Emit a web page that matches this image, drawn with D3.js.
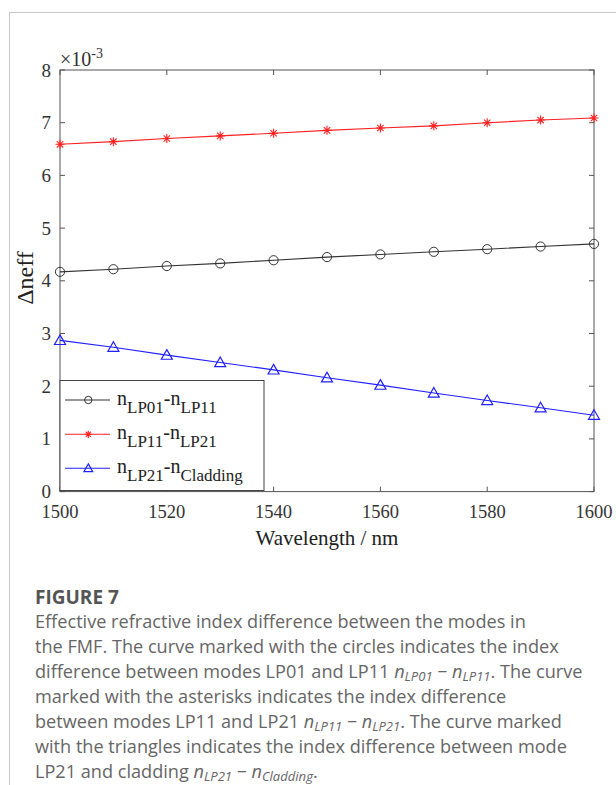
<!DOCTYPE html>
<html><head><meta charset="utf-8">
<script src="https://cdn.jsdelivr.net/npm/d3@7/dist/d3.min.js"></script>
<style>
body{margin:0;background:#fff;}
svg{display:block;}
</style></head>
<body>
<svg id="c" width="616" height="785"></svg>
<script>
const wavelengths = [1500,1510,1520,1530,1540,1550,1560,1570,1580,1590,1600];
const lp01_lp11 = [4.17,4.22,4.28,4.33,4.39,4.45,4.50,4.55,4.60,4.65,4.70];
const lp11_lp21 = [6.59,6.64,6.70,6.75,6.80,6.855,6.90,6.94,7.00,7.05,7.09];
const lp21_clad = [2.87,2.74,2.59,2.45,2.31,2.16,2.02,1.87,1.73,1.59,1.45];
const xTicks = [1500,1520,1540,1560,1580,1600];
const yTicks = [0,1,2,3,4,5,6,7,8];
const seriesNames = [["LP01","LP11"],["LP11","LP21"],["LP21","Cladding"]];
const captionLines = [
 [["Effective refractive index difference between the modes in"]],
 [["the FMF. The curve marked with the circles indicates the index"]],
 [["difference between modes LP01 and LP11 "],["n","i"],["LP01","s"],[" \u2212 ","i"],["n","i"],["LP11","s"],[". The curve"]],
 [["marked with the asterisks indicates the index difference"]],
 [["between modes LP11 and LP21 "],["n","i"],["LP11","s"],[" \u2212 ","i"],["n","i"],["LP21","s"],[". The curve marked"]],
 [["with the triangles indicates the index difference between mode"]],
 [["LP21 and cladding "],["n","i"],["LP21","s"],[" \u2212 ","i"],["n","i"],["Cladding","s"],["."]]
];

const svg = d3.select("#c");
svg.append("line").attr("x1",9).attr("x2",616).attr("y1",12.5).attr("y2",12.5).attr("stroke","#c8c8c8").attr("stroke-width",1);
svg.append("line").attr("x1",9.5).attr("x2",9.5).attr("y1",12).attr("y2",785).attr("stroke","#c8c8c8").attr("stroke-width",1);

const L=60,R=594,T=70,B=491.6;
const x = d3.scaleLinear().domain([1500,1600]).range([L,R]);
const y = d3.scaleLinear().domain([0,8]).range([B,T]);
const serif = "'Liberation Serif','Times New Roman',serif";
const axisCol = "#555";

const g = svg.append("g");
g.append("rect").attr("x",L).attr("y",T).attr("width",R-L).attr("height",B-T).attr("fill","none").attr("stroke",axisCol).attr("stroke-width",1);
xTicks.forEach(t=>{
  g.append("line").attr("x1",x(t)).attr("x2",x(t)).attr("y1",B).attr("y2",B-5).attr("stroke",axisCol);
  g.append("line").attr("x1",x(t)).attr("x2",x(t)).attr("y1",T).attr("y2",T+5).attr("stroke",axisCol);
  g.append("text").attr("x",x(t)).attr("y",518).attr("text-anchor","middle").attr("font-family",serif).attr("font-size",18.5).attr("fill","#333").text(t);
});
yTicks.forEach(t=>{
  g.append("line").attr("x1",L).attr("x2",L+5).attr("y1",y(t)).attr("y2",y(t)).attr("stroke",axisCol);
  g.append("line").attr("x1",R).attr("x2",R-5).attr("y1",y(t)).attr("y2",y(t)).attr("stroke",axisCol);
  g.append("text").attr("x",51).attr("y",y(t)+6.5).attr("text-anchor","end").attr("font-family",serif).attr("font-size",19).attr("fill","#333").text(t);
});
const ex = g.append("text").attr("x",60).attr("y",65.7).attr("font-family",serif).attr("font-size",20).attr("fill","#333");
ex.append("tspan").text("\u00d710");
ex.append("tspan").attr("dy",-8).attr("font-size",14).text("-3");
g.append("text").attr("x",327).attr("y",545).attr("text-anchor","middle").attr("font-family",serif).attr("font-size",21).attr("fill","#222").text("Wavelength / nm");
g.append("text").attr("transform","translate(33,278) rotate(-90)").attr("text-anchor","middle").attr("font-family",serif).attr("font-size",24).attr("fill","#222").text("\u0394neff");

const series = [
  {vals:lp01_lp11,col:"#333",marker:"circle"},
  {vals:lp11_lp21,col:"#ff2020",marker:"star"},
  {vals:lp21_clad,col:"#2020ff",marker:"tri"}
];
function drawMarker(sel,type,cx,cy,col,s){
  if(type==="circle"){
    sel.append("circle").attr("cx",cx).attr("cy",cy).attr("r",4.6*s).attr("fill","none").attr("stroke",col).attr("stroke-width",1);
  } else if(type==="tri"){
    const h=5.5*s;
    sel.append("path").attr("d",`M${cx},${cy-h}L${cx+h},${cy+h*0.75}L${cx-h},${cy+h*0.75}Z`).attr("fill","none").attr("stroke",col).attr("stroke-width",1.2);
  } else {
    const r=4.5*s;
    let d="";
    [0,45,90,135].forEach(a=>{const rad=a*Math.PI/180;d+=`M${cx-r*Math.cos(rad)},${cy-r*Math.sin(rad)}L${cx+r*Math.cos(rad)},${cy+r*Math.sin(rad)}`;});
    sel.append("path").attr("d",d).attr("stroke",col).attr("stroke-width",1.1).attr("fill","none");
  }
}
const line = d3.line().x((d,i)=>x(wavelengths[i])).y(d=>y(d));
series.forEach(s=>{
  g.append("path").datum(s.vals).attr("d",line).attr("fill","none").attr("stroke",s.col).attr("stroke-width",1.1);
  s.vals.forEach((v,i)=>drawMarker(g,s.marker,x(wavelengths[i]),y(v),s.col,1));
});

const lg = g.append("g");
lg.append("rect").attr("x",L).attr("y",380.5).attr("width",204).attr("height",110).attr("fill","#fff").attr("stroke","#444").attr("stroke-width",1);
const ly=[400,434.3,468.3];
series.forEach((s,i)=>{
  lg.append("line").attr("x1",65).attr("x2",110).attr("y1",ly[i]).attr("y2",ly[i]).attr("stroke",s.col).attr("stroke-width",1.1);
  drawMarker(lg,s.marker,88.3,ly[i],s.col,0.8);
  const t = lg.append("text").attr("x",117).attr("y",ly[i]+4.5).attr("font-family",serif).attr("font-size",20).attr("fill","#222");
  t.append("tspan").text("n");
  t.append("tspan").attr("dy",8).attr("font-size",17).text(seriesNames[i][0]);
  t.append("tspan").attr("dy",-8).text("-n");
  t.append("tspan").attr("dy",8).attr("font-size",17).text(seriesNames[i][1]);
});

// caption
const sans = "'Open Sans','Noto Sans',sans-serif";
svg.append("text").attr("x",35).attr("y",604).attr("font-family",sans).attr("font-weight",700).attr("font-size",19).attr("fill","#555").text("FIGURE 7");
function buildLine(ln,i,fs){
  const t = svg.append("text").attr("x",35).attr("y",628+25*i).attr("font-family",sans).attr("font-size",fs).attr("fill","#666");
  let sub=false;
  ln.forEach(p=>{
    const ts = t.append("tspan").text(p[0]);
    if(p[1]==="s"){ ts.attr("font-style","italic").attr("font-size",fs*0.72).attr("dy",3); sub=true; }
    else { if(p[1]==="i") ts.attr("font-style","italic"); if(sub){ts.attr("dy",-3);sub=false;} }
  });
  return t;
}
const probe = buildLine(captionLines[2],2,16);
const w16 = probe.node().getComputedTextLength();
probe.remove();
const capSize = 16*548/w16;
captionLines.forEach((ln,i)=>buildLine(ln,i,capSize));
</script>
</body></html>
